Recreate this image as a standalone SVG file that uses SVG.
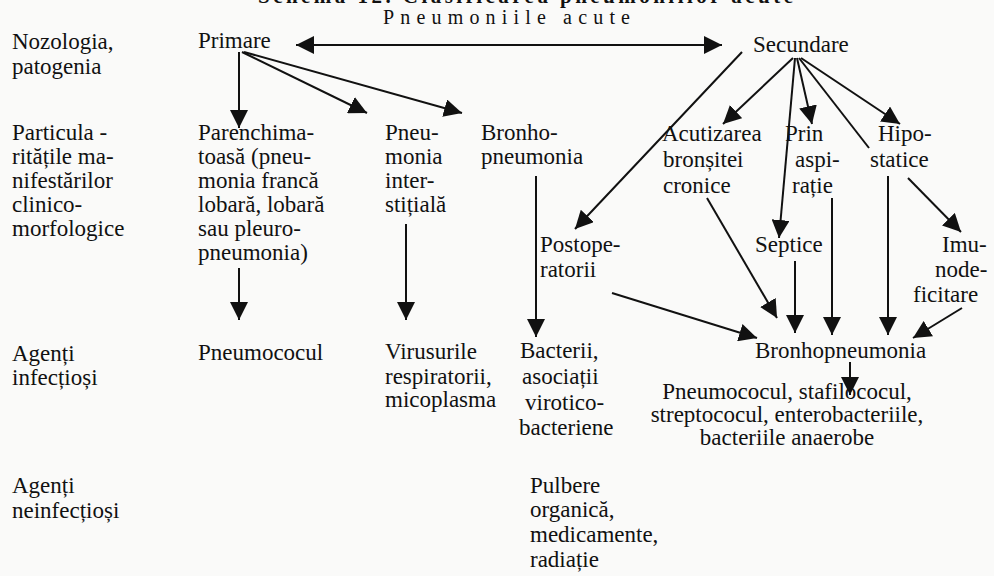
<svg xmlns="http://www.w3.org/2000/svg" width="994" height="576" viewBox="0 0 994 576">
<style>
text{font-family:"Liberation Serif","Times New Roman",serif;font-size:23px;fill:#111}
.hd{font-weight:bold;font-size:21px}
.ti{font-size:20px}
.ln{fill:none;stroke:#111;stroke-width:2}
.ar{marker-end:url(#ah)}
.mid{text-anchor:middle}
</style>
<defs>
<marker id="ah" markerUnits="userSpaceOnUse" markerWidth="20" markerHeight="18" refX="18" refY="9" orient="auto-start-reverse">
<path d="M0,0 L18,9 L0,18 z" fill="#111"/>
</marker>
</defs>
<rect width="994" height="576" fill="#fafaf9"/>
<text class="hd" x="258" y="3" textLength="535" lengthAdjust="spacing">Schema 12. Clasificarea pneumoniilor acute</text>
<g id="title"><text class="ti" x="383" y="24" textLength="247" lengthAdjust="spacing">Pneumoniile acute</text></g>
<g id="lbl-nozologia"><text x="12" y="49">Nozologia,</text><text x="12" y="74">patogenia</text></g>
<g id="lbl-particularitati"><text x="12" y="140">Particula -</text><text x="12" y="164">ritățile ma-</text><text x="12" y="188">nifestărilor</text><text x="12" y="212">clinico-</text><text x="12" y="236">morfologice</text></g>
<g id="lbl-infectiosi"><text x="12" y="361">Agenți</text><text x="12" y="385">infecțioși</text></g>
<g id="lbl-neinfectiosi"><text x="12" y="493">Agenți</text><text x="12" y="518">neinfecțioși</text></g>
<g id="primare"><text x="198" y="48">Primare</text></g>
<g id="secundare"><text x="753" y="52">Secundare</text></g>
<g id="parenchimatoasa"><text x="198" y="140">Parenchima-</text><text x="198" y="164">toasă (pneu-</text><text x="198" y="188">monia francă</text><text x="198" y="212">lobară, lobară</text><text x="198" y="236">sau pleuro-</text><text x="198" y="260">pneumonia)</text></g>
<g id="interstitiala"><text x="385" y="140">Pneu-</text><text x="385" y="164">monia</text><text x="385" y="188">inter-</text><text x="385" y="212">stițială</text></g>
<g id="bronhopneumonia1"><text x="481" y="140">Bronho-</text><text x="481" y="164">pneumonia</text></g>
<g id="acutizarea"><text x="662" y="141">Acutizarea</text><text x="663" y="167">bronșitei</text><text x="663" y="193">cronice</text></g>
<g id="aspiratie"><text x="785" y="141">Prin</text><text x="795" y="167">aspi-</text><text x="792" y="193">rație</text></g>
<g id="hipostatice"><text x="878" y="141">Hipo-</text><text x="870" y="167">statice</text></g>
<g id="postoperatorii"><text x="540" y="252">Postope-</text><text x="540" y="277">ratorii</text></g>
<g id="septice"><text x="755" y="252">Septice</text></g>
<g id="imunodeficitare"><text x="942" y="252">Imu-</text><text x="935" y="277">node-</text><text x="913" y="302">ficitare</text></g>
<g id="pneumococul"><text x="198" y="360">Pneumococul</text></g>
<g id="virusurile"><text x="385" y="359">Virusurile</text><text x="385" y="384">respiratorii,</text><text x="385" y="407">micoplasma</text></g>
<g id="bacterii"><text x="520" y="358">Bacterii,</text><text x="522" y="384">asociații</text><text x="525" y="410">virotico-</text><text x="519" y="435">bacteriene</text></g>
<g id="bronhopneumonia2"><text x="755" y="358">Bronhopneumonia</text></g>
<g id="agenti-bp"><text class="mid" x="787" y="399">Pneumococul, stafilococul,</text><text class="mid" x="787" y="422">streptococul, enterobacteriile,</text><text class="mid" x="787" y="445">bacteriile anaerobe</text></g>
<g id="pulbere"><text x="530" y="493">Pulbere</text><text x="530" y="517">organică,</text><text x="530" y="542">medicamente,</text><text x="530" y="567">radiație</text></g>
<g id="connectors">
<path class="ln" d="M296,45 H722" marker-start="url(#ah)" marker-end="url(#ah)"/>
<path class="ln ar" d="M239,52 V128"/>
<path class="ln ar" d="M242,52 L367,113"/>
<path class="ln ar" d="M244,52 L462,113"/>
<path class="ln ar" d="M239,268 V320"/>
<path class="ln ar" d="M406,224 V320"/>
<path class="ln ar" d="M536,176 V337"/>
<path class="ln ar" d="M742,52 L575,229"/>
<path class="ln ar" d="M793,58 L723,124"/>
<path class="ln ar" d="M795,58 L779,238"/>
<path class="ln ar" d="M797,58 L812,124"/>
<path class="ln" d="M799,58 L869,148"/>
<path class="ln ar" d="M801,58 L900,124"/>
<path class="ln ar" d="M908,178 L961,232"/>
<path class="ln ar" d="M707,198 L777,318"/>
<path class="ln ar" d="M612,293 L757,338"/>
<path class="ln ar" d="M795,261 V333"/>
<path class="ln ar" d="M832,198 V335"/>
<path class="ln ar" d="M888,176 V335"/>
<path class="ln ar" d="M962,308 L913,338"/>
<path class="ln ar" d="M850,362 V395"/>
</g>
</svg>
